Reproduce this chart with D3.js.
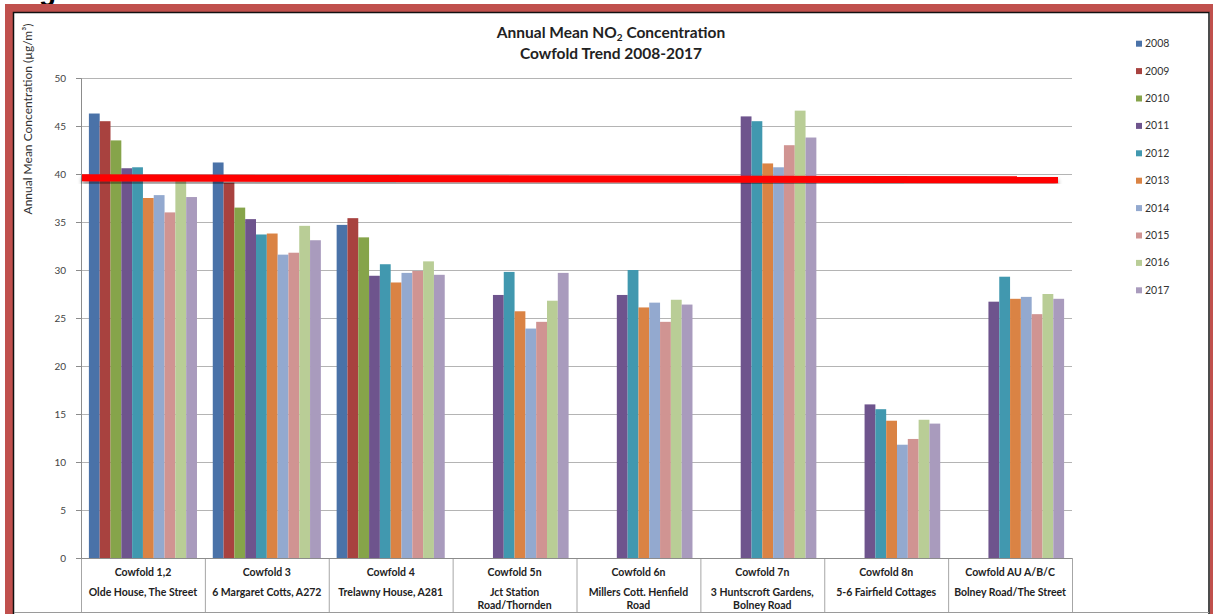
<!DOCTYPE html>
<html>
<head>
<meta charset="utf-8">
<script src="https://cdn.jsdelivr.net/npm/d3@7"></script>
<style>
  body { margin: 0; background: #fff; }
  svg { display: block; font-family: Lato, "Open Sans", sans-serif; }
</style>
</head>
<body>
<svg id="chart" width="1213" height="614"></svg>
<script>
// categories
var sites = ["Cowfold 1,2", "Cowfold 3", "Cowfold 4", "Cowfold 5n", "Cowfold 6n", "Cowfold 7n", "Cowfold 8n", "Cowfold AU A/B/C"]
var places = ["Olde House, The Street", "6 Margaret Cotts, A272", "Trelawny House, A281", "Jct Station Road/Thornden",
              "Millers Cott. Henfield Road", "3 Huntscroft Gardens, Bolney Road", "5-6 Fairfield Cottages", "Bolney Road/The Street"]
var years = ["2008", "2009", "2010", "2011", "2012", "2013", "2014", "2015", "2016", "2017"]

// annual means per year, one value per site (null = not monitored)
var v2008 = [46.3, 41.2, 34.7, null, null, null, null, null]
var v2009 = [45.5, 39.1, 35.4, null, null, null, null, null]
var v2010 = [43.5, 36.5, 33.4, null, null, null, null, null]
var v2011 = [40.6, 35.3, 29.4, 27.4, 27.4, 46.0, 16.0, 26.7]
var v2012 = [40.7, 33.7, 30.6, 29.8, 30.0, 45.5, 15.5, 29.3]
var v2013 = [37.5, 33.8, 28.7, 25.7, 26.1, 41.1, 14.3, 27.0]
var v2014 = [37.8, 31.6, 29.7, 23.9, 26.6, 40.7, 11.8, 27.2]
var v2015 = [36.0, 31.8, 29.9, 24.6, 24.6, 43.0, 12.4, 25.4]
var v2016 = [39.3, 34.6, 30.9, 26.8, 26.9, 46.6, 14.4, 27.5]
var v2017 = [37.6, 33.1, 29.5, 29.7, 26.4, 43.8, 14.0, 27.0]
var series = [v2008, v2009, v2010, v2011, v2012, v2013, v2014, v2015, v2016, v2017]

var yTicks = [0, 5, 10, 15, 20, 25, 30, 35, 40, 45, 50]
// hand drawn limit line (left end, right end)
var limitLine = [39.6, 39.4]

var colors = ["#4A72A8", "#A8423F", "#86A44A", "#6E548D", "#4198AF", "#DA8344", "#93A9CF", "#D09492", "#B9CD96", "#A99BBD"]

var table = []
sites.forEach(function (s, i) {
  years.forEach(function (y, j) {
    if (series[j][i] != null) table.push({site: s, year: y, value: series[j][i]})
  })
})

var svg = d3.select("#chart")

// shadow for the red marker line
var defs = svg.append("defs")
defs.append("filter").attr("id", "shadow").attr("x", "-5%").attr("y", "-200%").attr("width", "110%").attr("height", "500%")
  .append("feDropShadow").attr("dx", 0).attr("dy", 3).attr("stdDeviation", 2)
  .attr("flood-color", "#000").attr("flood-opacity", 0.45)

// heading above the frame, only its descender shows
svg.append("text").attr("x", 14).attr("y", 0)
  .style("font-family", "'Liberation Sans', Arial, sans-serif").style("font-weight", "bold").style("font-size", "28px")
  .text("Fig")

// frame
svg.append("rect").attr("x", 9).attr("y", 8).attr("width", 1205).attr("height", 700)
  .attr("fill", "none").attr("stroke", "#C0504D").attr("stroke-width", 8)
svg.append("rect").attr("x", 13.5).attr("y", 12.5).attr("width", 1195.5).attr("height", 700)
  .attr("fill", "#fff").attr("stroke", "#111").attr("stroke-width", 1.5)

var x0 = d3.scaleBand().domain(sites).range([81, 1072])
var x1 = d3.scaleBand().domain(years).range([0, x0.bandwidth()]).paddingOuter(0.73)
var y = d3.scaleLinear().domain([0, 50]).range([558, 78])

// grid
svg.append("g").selectAll("line")
  .data(yTicks.filter(function (d) { return d > 0 }))
  .enter().append("line")
    .attr("x1", 81).attr("x2", 1072)
    .attr("y1", function (d) { return y(d) + 0.5 })
    .attr("y2", function (d) { return y(d) + 0.5 })
    .attr("stroke", "#b4b4b4").attr("stroke-width", 1.2)

// y axis
var yAxis = d3.axisLeft(y).tickValues(yTicks).tickSize(5).tickPadding(10).tickFormat(d3.format("d"))
var gy = svg.append("g").attr("transform", "translate(81,0)").call(yAxis)
gy.select(".domain").attr("stroke", "#8c8c8c")
gy.selectAll(".tick line").attr("stroke", "#8c8c8c")
gy.selectAll(".tick text").attr("fill", "#444").style("font-size", "10px").style("font-family", "Lato, sans-serif")

svg.append("text")
  .attr("transform", "translate(32,119) rotate(-90)")
  .attr("text-anchor", "middle")
  .attr("fill", "#333").style("font-size", "12px")
  .text("Annual Mean Concentration (\u00b5g/m\u00b3)")

// bars
svg.append("g").selectAll("rect")
  .data(table)
  .enter().append("rect")
    .attr("x", function (d) { return x0(d.site) + x1(d.year) })
    .attr("y", function (d) { return y(d.value) })
    .attr("width", x1.bandwidth())
    .attr("height", function (d) { return y(0) - y(d.value) })
    .attr("fill", function (d) { return colors[years.indexOf(d.year)] })

// category axis boxes
var bounds = sites.map(function (s) { return x0(s) }).concat([x0.range()[1]])
svg.append("g").selectAll("line")
  .data(bounds)
  .enter().append("line")
    .attr("x1", function (d) { return d + 0.5 }).attr("x2", function (d) { return d + 0.5 })
    .attr("y1", 558).attr("y2", 612)
    .attr("stroke", "#a6a6a6")
svg.append("line").attr("x1", 76).attr("x2", 1072).attr("y1", 558.5).attr("y2", 558.5).attr("stroke", "#8c8c8c")
svg.append("line").attr("x1", 14).attr("x2", 1209).attr("y1", 612.5).attr("y2", 612.5).attr("stroke", "#9a9a9a")

var cat = svg.append("g").selectAll("g")
  .data(sites)
  .enter().append("g")
    .attr("transform", function (d) { return "translate(" + (x0(d) + x0.bandwidth() / 2) + ",0)" })
cat.append("text")
  .attr("y", 576).attr("text-anchor", "middle")
  .attr("fill", "#222").style("font-size", "10.5px").style("font-weight", "bold")
  .text(function (d) { return d })
cat.append("text")
  .attr("y", 596).attr("text-anchor", "middle")
  .attr("fill", "#222").style("font-size", "10.5px").style("font-weight", "bold")
  .each(function (d, i) {
    var t = d3.select(this), words = places[i].split(" "), line = []
    var ts = t.append("tspan").attr("x", 0)
    words.forEach(function (w) {
      line.push(w)
      ts.text(line.join(" "))
      if (ts.node().getComputedTextLength() > x0.bandwidth() - 8 && line.length > 1) {
        line.pop()
        ts.text(line.join(" "))
        line = [w]
        ts = t.append("tspan").attr("x", 0).attr("dy", 13).text(w)
      }
    })
  })

// red marker line
svg.append("line")
  .attr("x1", x0.range()[0] + 1).attr("x2", x0.range()[1] - 14)
  .attr("y1", y(limitLine[0])).attr("y2", y(limitLine[1]))
  .attr("stroke", "#ff0000").attr("stroke-width", 7)
  .attr("filter", "url(#shadow)")

// title
var title = svg.append("text").attr("x", 611).attr("y", 38).attr("text-anchor", "middle")
  .attr("fill", "#222").style("font-size", "15.5px").style("font-weight", "bold")
title.append("tspan").text("Annual Mean NO")
title.append("tspan").attr("dy", 3).style("font-size", "10px").text("2")
title.append("tspan").attr("dy", -3).text(" Concentration")
svg.append("text").attr("x", 611).attr("y", 59).attr("text-anchor", "middle")
  .attr("fill", "#222").style("font-size", "15.5px").style("font-weight", "bold")
  .text("Cowfold Trend 2008-2017")

// legend
var legend = svg.append("g").selectAll("g")
  .data(years)
  .enter().append("g")
    .attr("transform", function (d, i) { return "translate(1136," + (43.7 + i * 27.4) + ")" })
legend.append("rect").attr("x", 0).attr("y", -3).attr("width", 6).attr("height", 6)
  .attr("fill", function (d, i) { return colors[i] })
legend.append("text").attr("x", 9).attr("y", 3.5)
  .attr("fill", "#333").style("font-size", "10.5px")
  .text(function (d) { return d })
</script>
</body>
</html>
